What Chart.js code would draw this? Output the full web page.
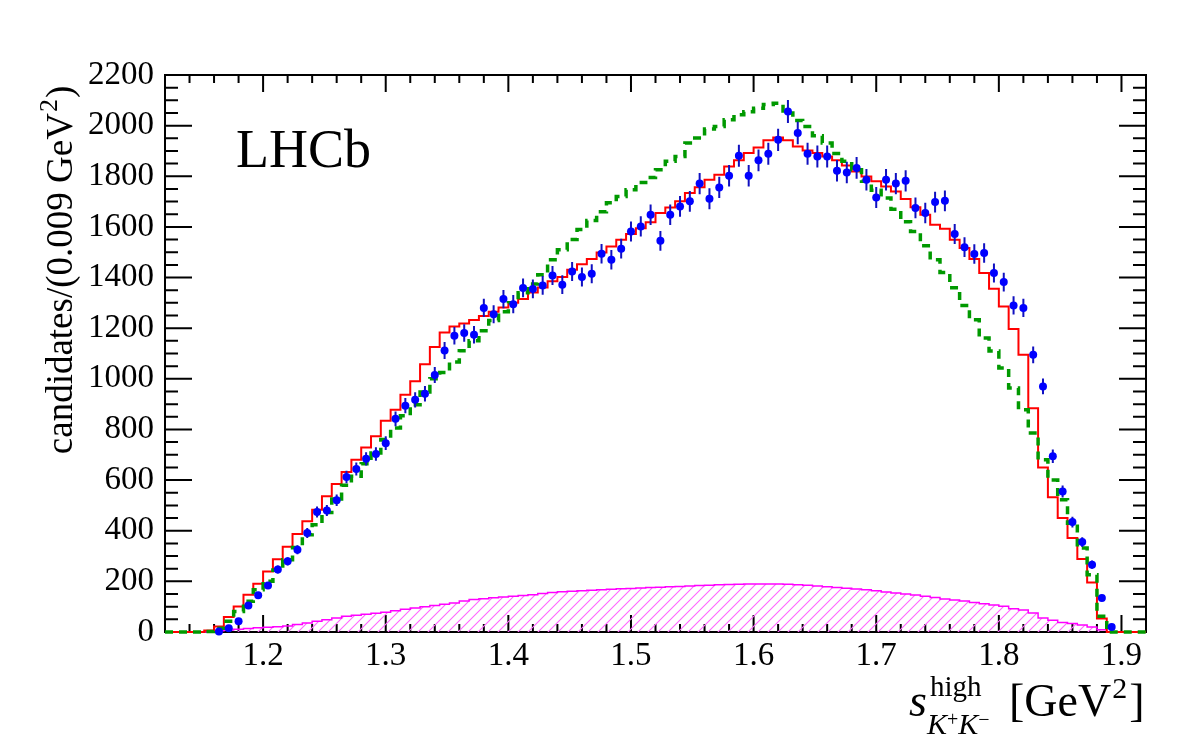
<!DOCTYPE html>
<html>
<head>
<meta charset="utf-8">
<title>LHCb s_high K+K-</title>
<script src="https://cdn.jsdelivr.net/npm/chart.js@4.4.1/dist/chart.umd.min.js"></script>
<style>
  html, body { margin: 0; padding: 0; background: #fff; }
  #wrap { width: 1182px; height: 736px; }
</style>
</head>
<body>
<div id="wrap"><canvas id="c" width="1182" height="736"></canvas></div>
<script>
// histogram binning: 100 bins of 0.008 GeV^2 from 1.12 to 1.92
const binLow = 1.12
const binWidth = 0.008
const xMin = 1.12
const xMax = 1.92
const xTicks = [1.2, 1.3, 1.4, 1.5, 1.6, 1.7, 1.8, 1.9]
const yTicks = [0, 200, 400, 600, 800, 1000, 1200, 1400, 1600, 1800, 2000, 2200]

// data points, bins 5..96
const dataFirstBin = 5
const dataCounts = [
  2, 15, 42, 105, 145, 184, 247, 279, 325, 391,
  474, 480, 520, 612, 644, 684, 703, 746, 842, 894,
  917, 941, 1015, 1112, 1170, 1181, 1174, 1280, 1255, 1315,
  1295, 1359, 1355, 1369, 1408, 1372, 1424, 1402, 1415, 1494,
  1470, 1514, 1582, 1602, 1648, 1545, 1648, 1681, 1701, 1771,
  1711, 1756, 1802, 1881, 1802, 1863, 1889, 1944, 2056, 1971,
  1889, 1878, 1878, 1822, 1815, 1833, 1786, 1716, 1786, 1771,
  1782, 1675, 1655, 1698, 1703, 1572, 1520, 1493, 1497, 1418,
  1382, 1290, 1280, 1095, 970, 694, 555, 434, 355, 266,
  134, 20
]

// total fit (red), all 100 bins
const fitTotal = [
  0, 0, 0, 0, 0, 6, 22, 59, 101, 147,
  191, 239, 287, 337, 387, 437, 483, 536, 585, 632,
  680, 729, 773, 834, 878, 937, 990, 1058, 1126, 1183,
  1207, 1218, 1232, 1248, 1265, 1282, 1300, 1315, 1341, 1361,
  1385, 1402, 1431, 1453, 1473, 1499, 1523, 1549, 1572, 1595,
  1618, 1655, 1677, 1701, 1734, 1757, 1786, 1806, 1839, 1863,
  1892, 1914, 1942, 1953, 1942, 1918, 1902, 1892, 1878, 1863,
  1843, 1819, 1799, 1780, 1760, 1740, 1710, 1678, 1648, 1609,
  1593, 1549, 1517, 1473, 1418, 1356, 1286, 1197, 1095, 884,
  650, 532, 450, 371, 288, 196, 53, 0, 0, 0
]

// alternative model (green dashed)
const altModel = [
  0, 0, 0, 0, 0, 2, 15, 42, 81, 121,
  167, 200, 245, 285, 334, 384, 424, 472, 525, 580,
  615, 665, 707, 760, 806, 854, 898, 948, 1000, 1025,
  1066, 1111, 1150, 1190, 1230, 1265, 1300, 1340, 1375, 1411,
  1470, 1510, 1550, 1590, 1625, 1660, 1695, 1720, 1747, 1775,
  1795, 1826, 1859, 1878, 1931, 1951, 1987, 1997, 2023, 2043,
  2055, 2069, 2083, 2088, 2050, 2020, 1997, 1960, 1931, 1890,
  1859, 1826, 1780, 1745, 1714, 1670, 1620, 1582, 1526, 1470,
  1420, 1360, 1290, 1233, 1161, 1110, 1043, 964, 878, 786,
  680, 600, 522, 430, 332, 226, 62, 0, 0, 0
]

// background component (magenta hatched)
const background = [
  0, 0, 0, 0, 0, 0, 5, 8, 11, 14,
  17, 19, 21, 24, 30, 36, 42, 48, 55, 62,
  66, 70, 74, 78, 84, 90, 95, 100, 105, 110,
  115, 122, 128, 131, 135, 138, 141, 144, 147, 152,
  156, 159, 161, 163, 165, 167, 169, 171, 172, 174,
  176, 177, 179, 180, 182, 184, 185, 187, 188, 189,
  190, 190, 190, 190, 189, 187, 185, 182, 179, 176,
  173, 170, 167, 163, 158, 154, 150, 146, 141, 136,
  130, 126, 122, 117, 112, 107, 102, 92, 87, 75,
  55, 46, 38, 34, 28, 20, 9, 0, 0, 0
]

// bin edges -> step points (value of bin i holds from edge i to edge i+1)
function histPoints(vals) {
  const pts = vals.map((v, i) => ({ x: binLow + i * binWidth, y: v }))
  pts.push({ x: binLow + vals.length * binWidth, y: vals[vals.length - 1] })
  return pts
}

const points = dataCounts.map((v, i) => ({ x: binLow + (dataFirstBin + i + 0.5) * binWidth, y: v }))

function hatchPattern() {
  const c = document.createElement('canvas')
  c.width = 10
  c.height = 10
  const g = c.getContext('2d')
  g.strokeStyle = '#ff66ff'
  g.lineWidth = 1.1
  g.beginPath()
  g.moveTo(-1, 11); g.lineTo(11, -1)
  g.moveTo(-6, 6); g.lineTo(6, -6)
  g.moveTo(4, 16); g.lineTo(16, 4)
  g.stroke()
  return g.createPattern(c, 'repeat')
}

const FONT = '"Liberation Serif", "Times New Roman", serif'

// ROOT style frame with inner ticks on all four sides
const rootFrame = {
  id: 'rootFrame',
  beforeDatasetsDraw(chart) {
    const { ctx, chartArea: a, scales: { x, y } } = chart
    ctx.save()
    ctx.strokeStyle = '#000'
    ctx.lineWidth = 2
    ctx.strokeRect(a.left, a.top, a.right - a.left, a.bottom - a.top)
    ctx.beginPath()
    for (let v = 0; v <= 2200; v += 50) {
      const py = y.getPixelForValue(v)
      const len = v % 200 === 0 ? 27 : 13
      ctx.moveTo(a.left, py); ctx.lineTo(a.left + len, py)
      ctx.moveTo(a.right, py); ctx.lineTo(a.right - len, py)
    }
    for (let n = 56; n <= 96; n++) {
      const px = x.getPixelForValue(n * 0.02)
      const len = n % 5 === 0 ? 17 : 8
      ctx.moveTo(px, a.bottom); ctx.lineTo(px, a.bottom - len)
      ctx.moveTo(px, a.top); ctx.lineTo(px, a.top + len)
    }
    ctx.stroke()
    ctx.restore()
  },
  beforeDatasetDraw(chart, args) {
    if (args.index !== 3) return
    // Poisson error bars on the data points
    const { ctx, scales: { x, y } } = chart
    ctx.save()
    ctx.strokeStyle = '#1010c0'
    ctx.lineWidth = 2
    ctx.beginPath()
    points.forEach(p => {
      const e = Math.sqrt(p.y)
      const px = x.getPixelForValue(p.x)
      ctx.moveTo(px, y.getPixelForValue(Math.max(0, p.y - e)))
      ctx.lineTo(px, y.getPixelForValue(p.y + e))
    })
    ctx.stroke()
    ctx.restore()
  },
  afterDraw(chart) {
    const { ctx } = chart
    ctx.save()
    ctx.fillStyle = '#000'
    ctx.textBaseline = 'alphabetic'
    ctx.textAlign = 'left'

    // LHCb label
    ctx.font = '54px ' + FONT
    ctx.fillText('LHCb', 236, 167)

    // y axis title, rotated
    ctx.save()
    ctx.translate(72, 270)
    ctx.rotate(-Math.PI / 2)
    const big = '37px ' + FONT, small = '26px ' + FONT
    ctx.font = big
    const t1 = 'candidates/(0.009 GeV', t3 = ')'
    const w1 = ctx.measureText(t1).width, w3 = ctx.measureText(t3).width
    ctx.font = small
    const w2 = ctx.measureText('2').width
    let x0 = -(w1 + w2 + 2 + w3) / 2
    ctx.font = big
    ctx.fillText(t1, x0, 0)
    x0 += w1 + 1
    ctx.font = small
    ctx.fillText('2', x0, -15)
    x0 += w2 + 1
    ctx.font = big
    ctx.fillText(t3, x0, 0)
    ctx.restore()

    // x axis title: s^high_{K+K-} [GeV^2]
    let cx = 909
    ctx.font = 'italic 46px ' + FONT
    ctx.fillText('s', cx, 716)
    cx += ctx.measureText('s').width + 3
    ctx.font = '29px ' + FONT
    ctx.fillText('high', cx, 696)
    let kx = cx - 3
    ctx.font = 'italic 30px ' + FONT
    ctx.fillText('K', kx, 734)
    kx += ctx.measureText('K').width
    ctx.font = '20px ' + FONT
    ctx.fillText('+', kx, 726)
    kx += ctx.measureText('+').width
    ctx.font = 'italic 30px ' + FONT
    ctx.fillText('K', kx, 734)
    kx += ctx.measureText('K').width
    ctx.font = '20px ' + FONT
    ctx.fillText('\u2212', kx, 726)

    let gx = 1009
    ctx.font = '46px ' + FONT
    ctx.fillText('[GeV', gx, 716)
    gx += ctx.measureText('[GeV').width + 1
    ctx.font = '30px ' + FONT
    ctx.fillText('2', gx, 698)
    gx += ctx.measureText('2').width + 2
    ctx.font = '46px ' + FONT
    ctx.fillText(']', gx, 716)
    ctx.restore()
  }
}

new Chart(document.getElementById('c'), {
  type: 'line',
  data: {
    datasets: [
      {
        label: 'background',
        data: histPoints(background),
        stepped: 'after',
        borderColor: '#ff00ff',
        borderWidth: 1.5,
        backgroundColor: hatchPattern(),
        fill: 'origin',
        pointRadius: 0,
        clip: false,
        order: 4
      },
      {
        label: 'fit',
        data: histPoints(fitTotal),
        stepped: 'after',
        borderColor: '#ff0000',
        borderWidth: 2,
        fill: false,
        pointRadius: 0,
        clip: false,
        order: 3
      },
      {
        label: 'model',
        data: histPoints(altModel),
        stepped: 'after',
        borderColor: '#009900',
        borderWidth: 3.5,
        borderDash: [8, 6],
        fill: false,
        pointRadius: 0,
        clip: false,
        order: 2
      },
      {
        type: 'scatter',
        label: 'data',
        data: points,
        showLine: false,
        pointRadius: 4,
        pointBackgroundColor: '#0000ff',
        pointBorderWidth: 0,
        clip: false,
        order: 1
      }
    ]
  },
  options: {
    responsive: false,
    animation: false,
    devicePixelRatio: 1,
    layout: { padding: { top: 75, right: 36, left: 0, bottom: 0 } },
    plugins: { legend: { display: false }, tooltip: { enabled: false } },
    scales: {
      x: {
        type: 'linear',
        min: xMin,
        max: xMax,
        grid: { display: false, drawTicks: false },
        border: { display: false },
        afterBuildTicks: s => { s.ticks = xTicks.map(v => ({ value: v })) },
        afterFit: s => { s.height = 104 },
        ticks: {
          autoSkip: false,
          maxRotation: 0,
          padding: 5,
          color: '#000',
          font: { family: FONT, size: 33 },
          callback: v => v.toFixed(1)
        }
      },
      y: {
        min: 0,
        max: 2200,
        grid: { display: false, drawTicks: false },
        border: { display: false },
        afterBuildTicks: s => { s.ticks = yTicks.map(v => ({ value: v })) },
        afterFit: s => { s.width = 165 },
        ticks: {
          autoSkip: false,
          padding: 11,
          color: '#000',
          font: { family: FONT, size: 33 },
          callback: v => String(v)
        }
      }
    }
  },
  plugins: [rootFrame]
})
</script>
</body>
</html>
